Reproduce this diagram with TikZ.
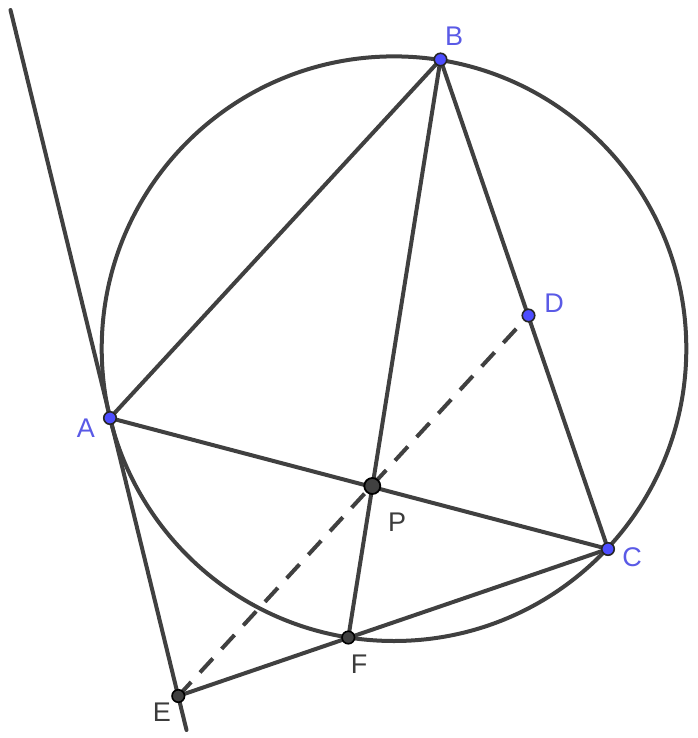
\documentclass[tikz,border=0pt]{standalone}
\usepackage{fontspec}
\setmainfont{Liberation Sans}
\definecolor{ln}{RGB}{64,64,64}
\definecolor{bluept}{RGB}{77,77,255}
\definecolor{bluelbl}{RGB}{90,90,230}
\definecolor{graylbl}{RGB}{60,60,60}
\tikzset{
  seg/.style={draw=ln, line width=4pt, line cap=round},
  dashseg/.style={draw=ln, line width=4pt, dash pattern=on 19pt off 13pt},
  bpt/.style={circle, fill=bluept, draw=black!85, line width=1.6pt, minimum size=12.5pt, inner sep=0pt},
  gpt/.style={circle, fill=ln, draw=black, line width=1.6pt, minimum size=12.5pt, inner sep=0pt},
  bigpt/.style={circle, fill=ln, draw=black, line width=1.8pt, minimum size=16pt, inner sep=0pt},
  blbl/.style={text=bluelbl, font=\fontsize{27}{27}\selectfont, inner sep=0pt},
  glbl/.style={text=graylbl, font=\fontsize{27}{27}\selectfont, inner sep=0pt}
}
\begin{document}
\begin{tikzpicture}[x=1pt,y=-1pt]
\useasboundingbox (0,0) rectangle (697,738);
\coordinate (A) at (110,418);
\coordinate (B) at (440.5,59.5);
\coordinate (C) at (608,549);
\coordinate (D) at (528.5,315.5);
\coordinate (P) at (372.3,486);
\coordinate (F) at (348.3,637.5);
\coordinate (E) at (178.3,696);
\coordinate (O) at (394,348.7);
\coordinate (T1) at (10.5,10);
\coordinate (T2) at (186.5,730);
\draw[seg] (O) circle [radius=292.3pt];
\draw[seg] (T1) -- (T2);
\draw[seg] (A) -- (B);
\draw[seg] (B) -- (C);
\draw[seg] (A) -- (C);
\draw[seg] (B) -- (F);
\draw[seg] (E) -- (C);
\draw[dashseg] (E) -- (D);
\node[bpt] (nA) at (A) {};
\node[bpt] (nB) at (B) {};
\node[bpt] (nC) at (C) {};
\node[bpt] (nD) at (D) {};
\node[bigpt] (nP) at (P) {};
\node[gpt] (nF) at (F) {};
\node[gpt] (nE) at (E) {};
\node[blbl] (lA) at (86,428) {A};
\node[blbl] (lB) at (454,36) {B};
\node[blbl] (lC) at (632,557) {C};
\node[blbl] (lD) at (554,303) {D};
\node[glbl] (lP) at (397,522) {P};
\node[glbl] (lF) at (359,664) {F};
\node[glbl] (lE) at (162,712) {E};
\end{tikzpicture}
\end{document}
